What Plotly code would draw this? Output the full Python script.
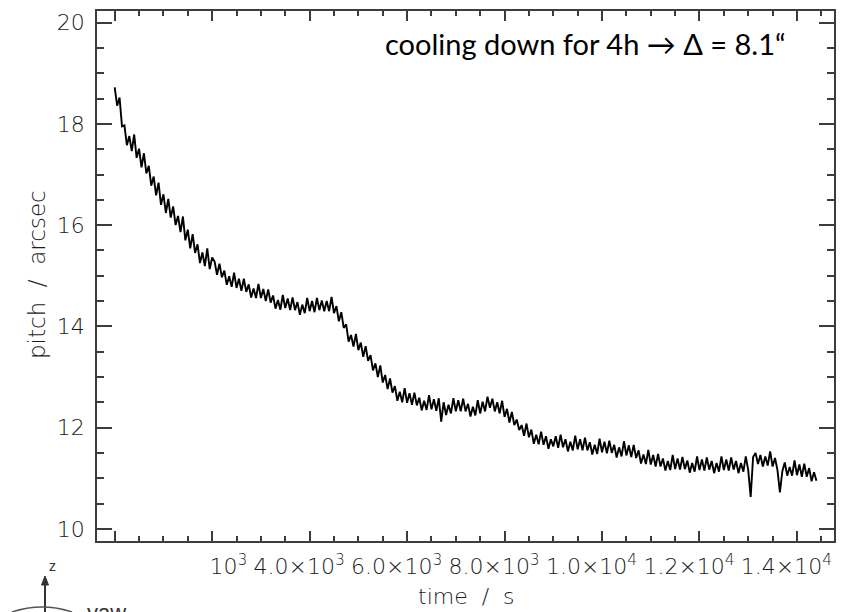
import plotly.graph_objects as go

# ---------------- data ----------------
t_start = 0
t_step = 50  # s, sampling interval of the series below

pitch_arcsec = [
    # 0 - 2000 s
    18.72, 18.36, 18.52, 17.95, 17.97, 17.58, 17.76, 17.46, 17.79, 17.33,
    17.51, 17.14, 17.42, 17.02, 17.17, 16.78, 16.96, 16.59, 16.84, 16.40,
    16.61, 16.24, 16.52, 16.15, 16.37, 16.00, 16.18, 15.86, 16.17, 15.70,
    15.91, 15.54, 15.82, 15.45, 15.62, 15.25, 15.46, 15.19, 15.54, 15.13,
    15.36,
    # 2050 - 4000 s
    15.28, 15.02, 15.24, 14.97, 15.10, 14.82, 14.99, 14.78, 15.06, 14.76,
    14.94, 14.70, 14.94, 14.68, 14.83, 14.57, 14.75, 14.56, 14.84, 14.56,
    14.74, 14.50, 14.73, 14.47, 14.61, 14.35, 14.52, 14.33, 14.62, 14.36,
    14.55, 14.32, 14.57, 14.32, 14.48, 14.23, 14.43, 14.26, 14.56, 14.30,
    # 4050 - 6000 s
    14.50, 14.28, 14.56, 14.32, 14.51, 14.30, 14.50, 14.30, 14.58, 14.26,
    14.40, 14.10, 14.28, 13.97, 14.04, 13.70, 13.83, 13.60, 13.85, 13.53,
    13.68, 13.40, 13.61, 13.32, 13.43, 13.13, 13.27, 13.00, 13.23, 12.89,
    13.04, 12.76, 12.97, 12.69, 12.82, 12.53, 12.71, 12.50, 12.78, 12.49,
    # 6050 - 8000 s
    12.68, 12.45, 12.69, 12.44, 12.59, 12.34, 12.53, 12.35, 12.64, 12.36,
    12.56, 12.33, 12.58, 12.12, 12.50, 12.25, 12.45, 12.28, 12.58, 12.32,
    12.54, 12.32, 12.57, 12.32, 12.47, 12.22, 12.41, 12.24, 12.54, 12.28,
    12.51, 12.32, 12.61, 12.39, 12.57, 12.32, 12.50, 12.28, 12.53, 12.21,
    # 8050 - 10000 s
    12.37, 12.10, 12.31, 12.05, 12.16, 11.95, 12.05, 11.84, 12.08, 11.81,
    11.96, 11.68, 11.86, 11.67, 11.92, 11.66, 11.83, 11.58, 11.77, 11.63,
    11.83, 11.60, 11.86, 11.61, 11.77, 11.53, 11.72, 11.55, 11.84, 11.57,
    11.77, 11.55, 11.80, 11.55, 11.71, 11.47, 11.66, 11.48, 11.78, 11.51,
    # 10050 - 12000 s
    11.72, 11.49, 11.74, 11.50, 11.66, 11.41, 11.61, 11.43, 11.73, 11.45,
    11.65, 11.42, 11.66, 11.40, 11.55, 11.29, 11.47, 11.28, 11.56, 11.27,
    11.46, 11.23, 11.48, 11.23, 11.39, 11.15, 11.34, 11.16, 11.46, 11.18,
    11.39, 11.17, 11.42, 11.18, 11.35, 11.11, 11.30, 11.13, 11.43, 11.16,
    # 12050 - 14400 s
    11.37, 11.15, 11.41, 11.17, 11.34, 11.10, 11.30, 11.13, 11.43, 11.16,
    11.37, 11.15, 11.41, 11.17, 11.34, 11.10, 11.30, 11.13, 11.43, 11.16,
    10.63, 11.42, 11.50, 11.28, 11.46, 11.23, 11.43, 11.25, 11.53, 11.23,
    11.40, 11.16, 10.72, 11.14, 11.31, 11.05, 11.22, 11.05, 11.35, 11.06,
    11.27, 11.03, 11.29, 11.03, 11.20, 10.94, 11.12, 10.95,
]
time_s = [t_start + i * t_step for i in range(len(pitch_arcsec))]

x_tickvals = [0, 2000, 4000, 6000, 8000, 10000, 12000, 14000]
x_ticktext = ["0", "2.0×10<sup>3</sup>", "4.0×10<sup>3</sup>", "6.0×10<sup>3</sup>",
              "8.0×10<sup>3</sup>", "1.0×10<sup>4</sup>", "1.2×10<sup>4</sup>",
              "1.4×10<sup>4</sup>"]
y_tickvals = [10, 12, 14, 16, 18, 20]
y_ticktext = ["10", "12", "14", "16", "18", "20"]

annotation_text = "cooling down for 4h → Δ = 8.1“"
x_title = "time  /  s"
y_title = "pitch  /  arcsec"

# ---------------- figure ----------------
W, H = 857, 612
L, R, T, B = 97, 23, 11, 71
pw, ph = W - L - R, H - T - B


def px(x):  # pixel -> paper x
    return (x - L) / pw


def py(y):  # pixel -> paper y
    return (H - B - y) / ph


axcol = "#3c3c3c"
labfont = dict(family="DejaVu Sans", size=22, color="#1a1a1a", weight=300)
NBSP = "\u00a0"

fig = go.Figure()
fig.add_trace(go.Scatter(x=time_s, y=pitch_arcsec, mode="lines",
                         line=dict(color="#000000", width=1.9),
                         hoverinfo="skip", showlegend=False))

fig.update_layout(
    template="none",
    width=W, height=H,
    margin=dict(l=L, r=R, t=T, b=B, pad=0, autoexpand=False),
    paper_bgcolor="white", plot_bgcolor="white",
    showlegend=False, hovermode=False,
    xaxis=dict(range=[-363, 14760], showgrid=False, zeroline=False, automargin=False,
               showline=True, linecolor=axcol, linewidth=1.5, mirror="ticks",
               ticks="inside", ticklen=10, tickwidth=1.5, tickcolor=axcol,
               tickmode="array", tickvals=x_tickvals,
               ticktext=[t + NBSP * 3 for t in x_ticktext], tickangle=0,
               tickfont=labfont, ticklabelstandoff=5,
               minor=dict(tickmode="linear", tick0=0, dtick=500, ticks="inside",
                          ticklen=5, tickwidth=1.5, tickcolor=axcol, showgrid=False)),
    yaxis=dict(range=[9.76, 20.23], showgrid=False, zeroline=False, automargin=False,
               showline=True, linecolor=axcol, linewidth=1.5, mirror="ticks",
               ticks="inside", ticklen=15, tickwidth=1.5, tickcolor=axcol,
               tickmode="array", tickvals=y_tickvals, ticktext=y_ticktext,
               tickfont=labfont, ticklabelstandoff=6,
               minor=dict(tickmode="linear", tick0=10, dtick=0.5, ticks="inside",
                          ticklen=7, tickwidth=1.5, tickcolor=axcol, showgrid=False)),
)

annotations = [
    dict(text=annotation_text, xref="paper", yref="paper", x=px(383), y=py(44),
         xanchor="left", yanchor="middle", showarrow=False,
         font=dict(family="Lato", size=29, color="#000000")),
    dict(text=x_title, xref="paper", yref="paper", x=px(466), y=py(596),
         xanchor="center", yanchor="middle", showarrow=False,
         font=labfont),
    dict(text=y_title, xref="paper", yref="paper", x=px(37), y=py(275),
         xanchor="center", yanchor="middle", showarrow=False, textangle=-90,
         font=dict(family="DejaVu Sans", size=23, color="#1a1a1a", weight=300)),
    dict(text="z", xref="paper", yref="paper", x=px(52), y=py(566),
         xanchor="center", yanchor="middle", showarrow=False,
         font=dict(family="Liberation Sans", size=14, color="#333333")),
    dict(text="yaw", xref="paper", yref="paper", x=px(85), y=py(598),
         xanchor="left", yanchor="top", showarrow=False,
         font=dict(family="Liberation Sans", size=22, color="#333333")),
]
fig.update_layout(annotations=annotations)

shapes = [
    # white picture box overlapping the first labels (as in the slide)
    dict(type="rect", xref="paper", yref="paper", layer="above",
         x0=px(0), x1=px(208), y0=py(549), y1=py(612),
         fillcolor="white", line=dict(width=0)),
    # z arrow shaft
    dict(type="line", xref="paper", yref="paper", layer="above",
         x0=px(45), x1=px(45), y0=py(612), y1=py(582),
         line=dict(color="#333333", width=2)),
    # arrow head
    dict(type="path", xref="paper", yref="paper", layer="above",
         path=f"M {px(45)},{py(576)} L {px(41.5)},{py(585)} L {px(48.5)},{py(585)} Z",
         fillcolor="#333333", line=dict(color="#333333", width=1)),
    # yaw ellipse arc
    dict(type="path", xref="paper", yref="paper", layer="above",
         path=(f"M {px(12)},{py(612)} Q {px(42)},{py(602)} {px(72)},{py(612)}"),
         line=dict(color="#555555", width=1.5)),
]
fig.update_layout(shapes=shapes)

fig.write_html("out.html", config={"displayModeBar": False},
               post_script="document.body.style.margin='0';document.body.style.overflow='hidden';")
